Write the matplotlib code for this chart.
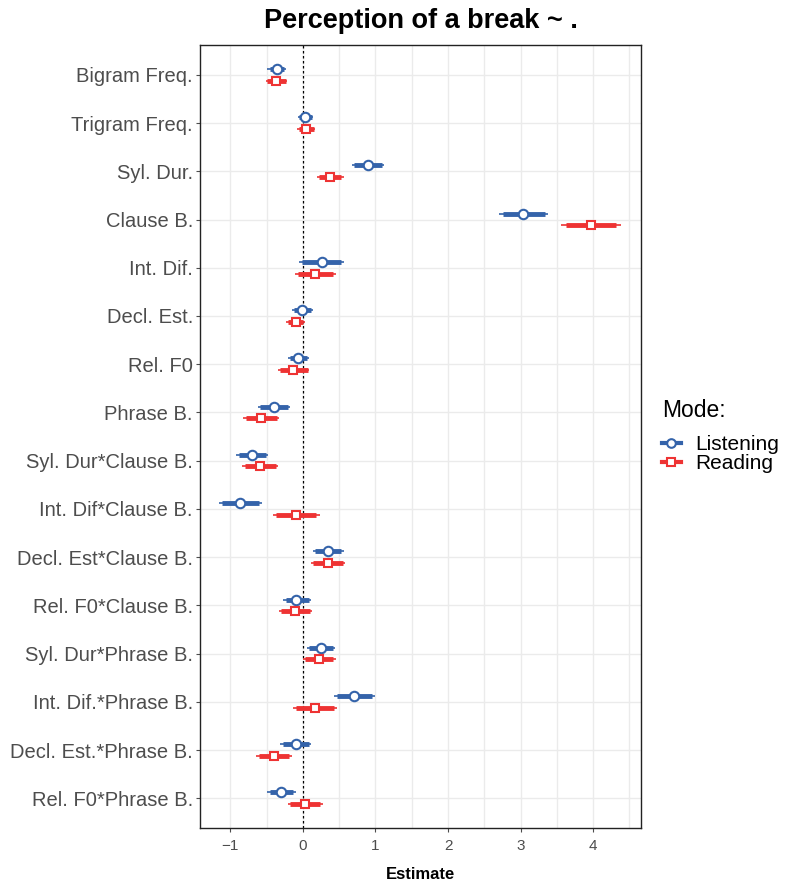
import matplotlib.pyplot as plt
from matplotlib.lines import Line2D
import numpy as np

# terms, top to bottom
terms = ["Bigram Freq.", "Trigram Freq.", "Syl. Dur.", "Clause B.", "Int. Dif.",
         "Decl. Est.", "Rel. F0", "Phrase B.", "Syl. Dur*Clause B.",
         "Int. Dif*Clause B.", "Decl. Est*Clause B.", "Rel. F0*Clause B.",
         "Syl. Dur*Phrase B.", "Int. Dif.*Phrase B.", "Decl. Est.*Phrase B.",
         "Rel. F0*Phrase B."]

# Listening: estimate, inner interval, outer interval
lis_est = [-0.36, 0.03, 0.90, 3.03, 0.26, -0.01, -0.065, -0.40, -0.70, -0.87,
           0.345, -0.09, 0.25, 0.71, -0.10, -0.30]
lis_lo_in = [-0.455, -0.05, 0.71, 2.76, -0.01, -0.12, -0.18, -0.59, -0.88, -1.12,
             0.165, -0.24, 0.09, 0.47, -0.28, -0.46]
lis_hi_in = [-0.26, 0.12, 1.09, 3.33, 0.52, 0.11, 0.05, -0.21, -0.51, -0.60,
             0.52, 0.08, 0.42, 0.95, 0.08, -0.13]
lis_lo_out = [-0.49, -0.07, 0.68, 2.70, -0.05, -0.15, -0.21, -0.625, -0.92, -1.16,
              0.14, -0.28, 0.06, 0.43, -0.31, -0.50]
lis_hi_out = [-0.23, 0.14, 1.12, 3.38, 0.57, 0.14, 0.08, -0.18, -0.48, -0.57,
              0.56, 0.11, 0.445, 0.99, 0.11, -0.10]

# Reading
rea_est = [-0.37, 0.04, 0.38, 3.97, 0.17, -0.10, -0.13, -0.58, -0.59, -0.10,
           0.345, -0.11, 0.22, 0.17, -0.40, 0.03]
rea_lo_in = [-0.49, -0.055, 0.225, 3.62, -0.07, -0.20, -0.31, -0.79, -0.795, -0.37,
             0.14, -0.30, 0.03, -0.09, -0.61, -0.18]
rea_hi_in = [-0.24, 0.15, 0.53, 4.32, 0.42, 0.0, 0.065, -0.36, -0.37, 0.18,
             0.555, 0.10, 0.42, 0.43, -0.19, 0.235]
rea_lo_out = [-0.51, -0.08, 0.20, 3.56, -0.11, -0.23, -0.35, -0.82, -0.84, -0.41,
              0.105, -0.335, 0.0, -0.13, -0.64, -0.21]
rea_hi_out = [-0.22, 0.17, 0.56, 4.38, 0.455, 0.03, 0.09, -0.33, -0.345, 0.23,
              0.585, 0.13, 0.455, 0.47, -0.15, 0.27]

blue = "#3463AA"
red = "#EE3333"

plt.rcParams['font.family'] = ['Liberation Sans', 'DejaVu Sans']

fig = plt.figure(figsize=(7.87, 8.81), dpi=100)
ax = fig.add_axes([0.254, 0.060, 0.5605, 0.889])

n = len(terms)
ypos = np.arange(n)[::-1].astype(float)
dodge = 0.12

series = [
    (lis_est, lis_lo_in, lis_hi_in, lis_lo_out, lis_hi_out, blue, "o", ypos + dodge),
    (rea_est, rea_lo_in, rea_hi_in, rea_lo_out, rea_hi_out, red, "s", ypos - dodge),
]
for est, lo_i, hi_i, lo_o, hi_o, col, mk, yy in series:
    ax.hlines(yy, lo_o, hi_o, color=col, lw=1.2, zorder=3)
    ax.hlines(yy, lo_i, hi_i, color=col, lw=3.5, zorder=3)
    ax.plot(est, yy, ls="none", marker=mk, ms=6.8 if mk == "o" else 6.0,
            mfc="white", mec=col, mew=1.5, zorder=4)

ax.axvline(0, color="black", ls=(0, (2, 2)), lw=0.9, zorder=2)

ax.set_xlim(-1.42, 4.66)
ax.set_ylim(-0.62, n - 1 + 0.62)
ax.set_xticks([-1, 0, 1, 2, 3, 4])
ax.set_xticklabels(["\u22121", "0", "1", "2", "3", "4"])
ax.set_xticks(np.arange(-1, 4.6, 0.5), minor=True)
ax.set_yticks(ypos)
ax.set_yticklabels(terms)

ax.grid(True, which="both", axis="x", color="#EBEBEB", lw=1.0, zorder=0)
ax.grid(True, which="major", axis="y", color="#EBEBEB", lw=1.0, zorder=0)
ax.set_axisbelow(True)
ax.tick_params(axis="x", which="major", labelsize=11, colors="#4D4D4D",
               length=3, pad=5, labelcolor="#4D4D4D")
ax.tick_params(axis="y", which="major", labelsize=14.5, colors="#4D4D4D",
               length=3, pad=2, labelcolor="#4D4D4D")
ax.tick_params(which="minor", length=0)
for s in ax.spines.values():
    s.set_color("#222222")
    s.set_linewidth(1.0)

ax.set_xlabel("Estimate", fontsize=12, fontweight="bold", labelpad=10)
ax.set_title("Perception of a break ~ .", fontsize=19.5, fontweight="bold", pad=12)

handles = [
    Line2D([0], [0], color=blue, lw=3, marker="o", ms=6.2, mfc="white", mec=blue, mew=1.5),
    Line2D([0], [0], color=red, lw=3, marker="s", ms=5.6, mfc="white", mec=red, mew=1.5),
]
leg = fig.legend(handles, ["Listening", "Reading"], title="Mode:",
                 loc="center left", bbox_to_anchor=(0.828, 0.505), frameon=False,
                 fontsize=15, title_fontsize=16.5, handlelength=0.9,
                 handletextpad=0.7, labelspacing=0.0, borderpad=0)
leg._legend_box.align = "left"
leg._legend_box.sep = 9

fig.savefig("out.png", dpi=100)
